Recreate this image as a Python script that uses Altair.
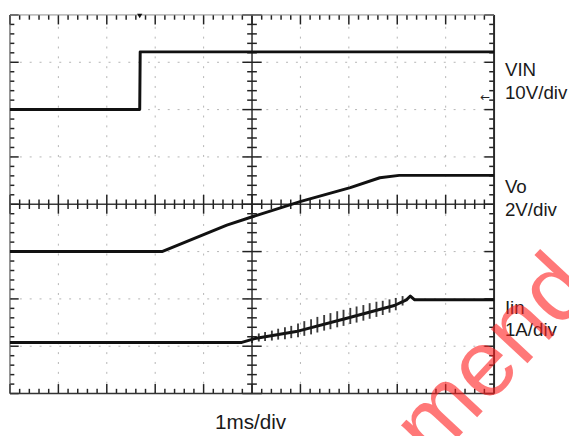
import altair as alt
import pandas as pd

# Screen: time in ms (0..10, 1 ms/div), level in divisions (0 bottom .. 8 top)
vin_t = [0.0, 2.68, 2.69, 10.0]
vin_v = [6.0, 6.0, 7.22, 7.22]

vo_t = [0.0, 3.14, 4.48, 4.99, 6.01, 7.03, 7.64, 8.04, 10.0]
vo_v = [3.0, 3.0, 3.56, 3.73, 4.06, 4.35, 4.56, 4.61, 4.61]

iin_t = [0.0, 4.79, 5.09, 5.91, 6.92, 7.94, 8.19, 8.27, 8.36, 10.0]
iin_v = [1.08, 1.08, 1.17, 1.31, 1.58, 1.86, 1.98, 2.06, 1.98, 1.98]

# switching ripple spikes on Iin during the ramp (time, top, bottom)
spike_t = [5.00, 5.14, 5.27, 5.41, 5.54, 5.68, 5.81, 5.95, 6.08, 6.22, 6.35, 6.49,
           6.62, 6.76, 6.89, 7.03, 7.16, 7.30, 7.43, 7.57, 7.70, 7.84, 7.97, 8.11]
spike_top = [1.22, 1.27, 1.30, 1.33, 1.37, 1.40, 1.43, 1.48, 1.53, 1.57, 1.62, 1.66,
             1.70, 1.74, 1.77, 1.81, 1.84, 1.87, 1.91, 1.94, 1.96, 1.99, 2.02, 2.06]
spike_bot = [1.07, 1.10, 1.11, 1.12, 1.14, 1.15, 1.17, 1.19, 1.22, 1.25, 1.29, 1.33,
             1.36, 1.40, 1.43, 1.47, 1.50, 1.54, 1.58, 1.62, 1.66, 1.71, 1.76, 1.86]

trigger_t = [2.68]

label_text = ["VIN", "10V/div", "Vo", "2V/div", "Iin", "1A/div"]
time_label = ["1ms/div"]
watermark_text = ["Recommended"]

n_xdiv = 10
n_ydiv = 8
sub = 5  # minor ticks per division

X = alt.Scale(domain=[0, n_xdiv], nice=False, zero=False)
Y = alt.Scale(domain=[0, n_ydiv], nice=False, zero=False)


def rules(df, **style):
    return alt.Chart(df).mark_rule(**style).encode(
        x=alt.X("x:Q", scale=X, axis=None),
        x2="x2:Q",
        y=alt.Y("y:Q", scale=Y, axis=None),
        y2="y2:Q",
    )


def seg(rows):
    return pd.DataFrame(rows, columns=["x", "x2", "y", "y2"]).astype(float)


# dotted graticule
grid_rows = [(i, i, 0, n_ydiv) for i in range(1, n_xdiv) if i != n_xdiv // 2]
grid_rows += [(0, n_xdiv, j, j) for j in range(1, n_ydiv) if j != n_ydiv // 2]
grid = rules(seg(grid_rows), color="#b4b4b4", strokeWidth=1, strokeDash=[2, 8])

# frame
left = rules(seg([(0, 0, 0, n_ydiv)]), color="#555555", strokeWidth=1.2)
right = rules(seg([(n_xdiv, n_xdiv, 0, n_ydiv)]), color="#2a2a2a", strokeWidth=2)
bottom = rules(seg([(0, n_xdiv, 0, 0)]), color="#333333", strokeWidth=1.5)
top = rules(seg([(0, n_xdiv, n_ydiv, n_ydiv)]), color="#8a8a8a", strokeWidth=1)
center = rules(seg([(n_xdiv / 2, n_xdiv / 2, 0, n_ydiv), (0, n_xdiv, n_ydiv / 2, n_ydiv / 2)]),
               color="#3a3a3a", strokeWidth=1.6)

# tick marks: vertical ones (along horizontal lines) and horizontal ones (along vertical lines)
mn, mj = 0.1, 0.2
vt_rows = []
for k in range(n_xdiv * sub + 1):
    x = k / sub
    L = mj if k % sub == 0 else mn
    vt_rows.append((x, n_ydiv / 2 - L, n_ydiv / 2 + L))
    vt_rows.append((x, 0.0, L))
    vt_rows.append((x, n_ydiv - L, float(n_ydiv)))
ht_rows = []
for k in range(n_ydiv * sub + 1):
    y = k / sub
    L = mj if k % sub == 0 else mn
    ht_rows.append((y, n_xdiv / 2 - L, n_xdiv / 2 + L))
    ht_rows.append((y, 0.0, L * 0.9))
    ht_rows.append((y, n_xdiv - L, float(n_xdiv)))

vticks = alt.Chart(pd.DataFrame(vt_rows, columns=["x", "y", "y2"])).mark_rule(
    color="#222222", strokeWidth=1.5
).encode(
    x=alt.X("x:Q", scale=X, axis=None),
    y=alt.Y("y:Q", scale=Y, axis=None),
    y2="y2:Q",
)
hticks = alt.Chart(pd.DataFrame(ht_rows, columns=["y", "x", "x2"])).mark_rule(
    color="#222222", strokeWidth=1.5
).encode(
    y=alt.Y("y:Q", scale=Y, axis=None),
    x=alt.X("x:Q", scale=X, axis=None),
    x2="x2:Q",
)

# traces
trace_rows = []
for name, ts, vs in [("VIN", vin_t, vin_v), ("Vo", vo_t, vo_v), ("Iin", iin_t, iin_v)]:
    for i, (t, v) in enumerate(zip(ts, vs)):
        trace_rows.append({"series": name, "t": t, "v": v, "i": i})
traces = alt.Chart(pd.DataFrame(trace_rows)).mark_line(
    color="#111111", strokeWidth=3, strokeJoin="round"
).encode(
    x=alt.X("t:Q", scale=X, axis=None),
    y=alt.Y("v:Q", scale=Y, axis=None),
    detail="series:N",
    order="i:Q",
)

spikes = alt.Chart(pd.DataFrame({"t": spike_t, "top": spike_top, "bot": spike_bot})).mark_rule(
    color="#1a1a1a", strokeWidth=1.9, opacity=0.85
).encode(
    x=alt.X("t:Q", scale=X, axis=None),
    y=alt.Y("top:Q", scale=Y, axis=None),
    y2="bot:Q",
)

trigger = alt.Chart(pd.DataFrame({"t": trigger_t})).mark_point(
    shape="triangle-down", filled=True, color="#111111", size=28, opacity=1
).encode(
    x=alt.X("t:Q", scale=X, axis=None),
    y=alt.value(1),
)

arrow = alt.Chart(pd.DataFrame({"a": ["\u2190"]})).mark_text(
    font="DejaVu Sans", fontSize=12, color="#222222", align="center", baseline="middle"
).encode(text="a:N", x=alt.value(482), y=alt.value(83))

lab_df = pd.DataFrame({"label": label_text})
label_y = [62, 85, 181, 204, 303, 326]
labels = []
for i, yy in enumerate(label_y):
    labels.append(
        alt.Chart(lab_df.iloc[[i]]).mark_text(
            font="Liberation Sans", fontSize=19, color="#1a1a1a",
            align="left", baseline="alphabetic"
        ).encode(text="label:N", x=alt.value(502), y=alt.value(yy))
    )

tlabel = alt.Chart(pd.DataFrame({"label": time_label})).mark_text(
    font="Liberation Sans", fontSize=21, color="#1a1a1a", align="center", baseline="alphabetic"
).encode(text="label:N", x=alt.value(244), y=alt.value(420))

watermark = alt.Chart(pd.DataFrame({"w": watermark_text})).mark_text(
    font="Liberation Sans", fontSize=96, color="#ff2020", opacity=0.6,
    align="left", baseline="alphabetic", angle=313
).encode(text="w:N", x=alt.value(222), y=alt.value(678))

chart = alt.layer(
    grid, center, vticks, hticks, left, right, bottom, top, traces, spikes, trigger, arrow,
    *labels, tlabel, watermark
).properties(
    width=491,
    height=384,
    autosize=alt.AutoSizeParams(type="none"),
    padding={"left": 2, "top": 4, "right": 76, "bottom": 40},
    background="white",
).configure_view(stroke=None)

chart.save("out.html", embed_options={"renderer": "svg", "actions": False})
